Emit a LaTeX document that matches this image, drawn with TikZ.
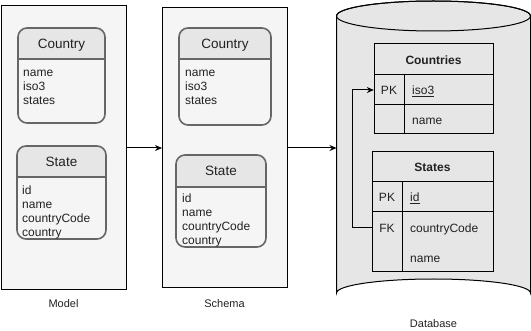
\documentclass[tikz,border=0pt]{standalone}
\usepackage{fontspec}
\setmainfont{Liberation Sans}
\usetikzlibrary{arrows.meta}

\definecolor{panelfill}{HTML}{F5F5F5}
\definecolor{headfill}{HTML}{E6E6E6}
\definecolor{cardedge}{HTML}{666666}
\definecolor{dbfill}{HTML}{E6E6E6}
\definecolor{inktext}{HTML}{222222}

\tikzset{
  panel/.style={draw=black, fill=panelfill, line width=1pt, inner sep=0pt, outer sep=0pt},
  cardline/.style={draw=cardedge, line width=1.6pt},
  txt/.style={inner sep=0pt, text height=10.5pt, text depth=1.5pt, text=inktext},
  cardtitle/.style={txt, font=\fontsize{13.5}{16}\selectfont},
  attr/.style={txt, anchor=west, font=\fontsize{12}{14}\selectfont},
  keycell/.style={txt, minimum width=30pt, minimum height=30pt, font=\fontsize{12}{14}\selectfont},
  tabhead/.style={txt, font=\bfseries\fontsize{12}{14}\selectfont},
  caption/.style={txt, font=\fontsize{11}{13}\selectfont},
  link/.style={draw=black, line width=1pt, -{Stealth[length=7pt,width=6pt]}},
}

% one entity card: name, x1, y1, x2, y2, header line y, title
\newcommand\entitycard[7]{%
  \fill[headfill] (#2,#6) [rounded corners=9pt] -- (#2,#3) -- (#4,#3) [sharp corners] -- (#4,#6) -- cycle;
  \draw[cardline] (#2,#6) -- (#4,#6);
  \draw[cardline, rounded corners=9pt] (#2,#3) rectangle (#4,#5);
  \node[cardtitle] (#1) at ({(#2+#4)/2},{(#3+#6)/2+0.5}) {#7};
}

\begin{document}
\begin{tikzpicture}[x=1pt, y=-1pt]
  \useasboundingbox (0,0) rectangle (531,331);

  % model
  \node[panel, minimum width=125pt, minimum height=284pt] (model) at (63.5,148) {};
  \entitycard{mcountry}{18}{28}{105}{123}{59}{Country}
  \foreach \t [count=\i] in {name,iso3,states}
    \node[attr] (mcountry\i) at (23,58+14*\i) {\t};
  \entitycard{mstate}{17}{146}{106}{239}{177}{State}
  \foreach \t [count=\i] in {id,name,countryCode,country}
    \node[attr] (mstate\i) at (22,176+14*\i) {\t};
  \node[caption] (modellbl) at (63.5,303) {Model};

  % schema
  \node[panel, minimum width=125pt, minimum height=280pt] (schema) at (224.5,148) {};
  \entitycard{scountry}{179}{28}{271}{125}{59}{Country}
  \foreach \t [count=\i] in {name,iso3,states}
    \node[attr] (scountry\i) at (185,58+14*\i) {\t};
  \entitycard{sstate}{176}{155}{266}{247}{187}{State}
  \foreach \t [count=\i] in {id,name,countryCode,country}
    \node[attr] (sstate\i) at (182,184+14*\i) {\t};
  \node[caption] (schemalbl) at (224.5,303) {Schema};

  % database cylinder
  \node[inner sep=0pt, outer sep=0pt, minimum width=194pt, minimum height=306pt] (db) at (433.5,154) {};
  \filldraw[fill=dbfill, draw=black, line width=1pt]
    (336.5,16) -- (336.5,293) arc[start angle=180, end angle=360, x radius=97, y radius=14]
    -- (530.5,16) arc[start angle=360, end angle=180, x radius=97, y radius=15] -- cycle;
  \draw[line width=1pt] (433.5,16) ellipse[x radius=97, y radius=15];
  \node[caption] (dblbl) at (433.5,323) {Database};

  % countries table
  \draw[line width=1pt] (374,44) rectangle (493,134);
  \draw[line width=1pt] (374,75) -- (493,75) (374,105) -- (493,105) (404,75) -- (404,134);
  \node[tabhead] (ctitle) at (433.5,60) {Countries};
  \node[keycell] (cpk) at (389,90) {PK};
  \node[attr] (ciso) at (412,90) {\underline{iso3}};
  \node[attr] (cname) at (412,120) {name};

  % states table
  \draw[line width=1pt] (372,152) rectangle (493,272);
  \draw[line width=1pt] (372,182) -- (493,182) (372,212) -- (493,212) (402,182) -- (402,272);
  \node[tabhead] (stitle) at (432.5,167) {States};
  \node[keycell] (spk) at (387,197) {PK};
  \node[attr] (sid) at (410,197) {\underline{id}};
  \node[keycell] (sfk) at (387,228) {FK};
  \node[attr] (scode) at (410,228) {countryCode};
  \node[attr] (sname) at (410,258) {name};

  % connectors
  \draw[link] (model.east) -- (schema.west);
  \draw[link] (schema.east) -- (schema.east -| db.west);
  \draw[link] (sfk.west) -- ++(-19,0) |- (cpk.west);
\end{tikzpicture}
\end{document}
